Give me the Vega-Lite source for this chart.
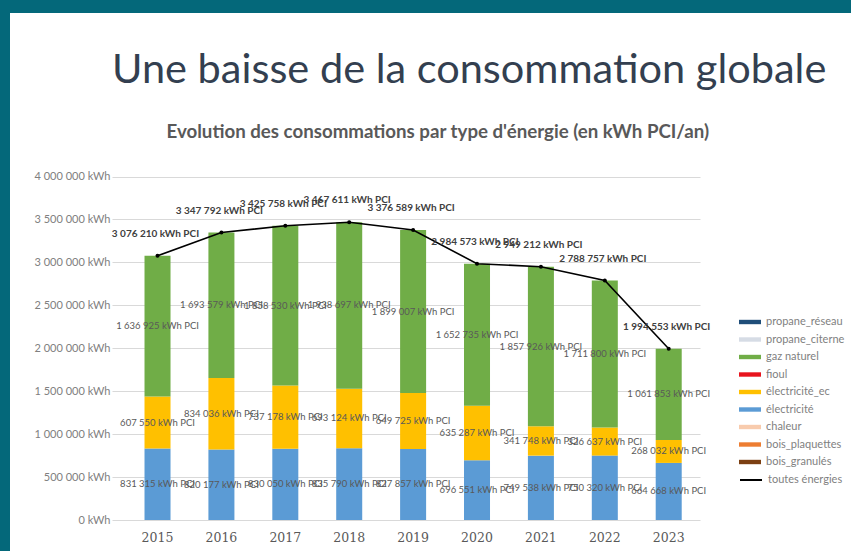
{
  "$schema": "https://vega.github.io/schema/vega-lite/v6.json",
  "autosize": {"type": "fit", "contains": "padding"},
  "width": 851,
  "height": 551,
  "padding": {"left": 10, "top": 13, "right": 0, "bottom": 0},
  "background": "#04687A",
  "config": {
    "view": {"fill": "#FFFFFF", "stroke": null},
    "locale": {"number": {"decimal": ",", "thousands": " ", "grouping": [3], "currency": ["", " €"]}},
    "axisY": {
      "orient": "left",
      "offset": 0,
      "domain": false,
      "ticks": false,
      "tickSize": 0,
      "labelPadding": -100,
      "labelFont": "Lato",
      "labelFontSize": 11,
      "labelColor": "#808080",
      "grid": true,
      "gridColor": "#D9D9D9",
      "gridWidth": 1
    }
  },
  "title": {
    "text": "Une baisse de la consommation globale",
    "subtitle": "\u200b\u00a0\u00a0\u00a0\u00a0\u00a0\u00a0\u00a0\u00a0\u00a0\u00a0\u00a0\u00a0Evolution des consommations par type d'énergie (en kWh PCI/an)",
    "anchor": "start",
    "frame": "group",
    "offset": -129,
    "dx": 102,
    "font": "Lato",
    "fontSize": 41.5,
    "fontWeight": 400,
    "color": "#333F50",
    "subtitleFont": "Lato",
    "subtitleFontSize": 18.7,
    "subtitleFontWeight": "bold",
    "subtitleColor": "#595959",
    "subtitlePadding": 32
  },
  "datasets": {
    "segments": [
      {"annee": "2015", "energie": "électricité", "valeur": 831315},
      {"annee": "2015", "energie": "électricité_ec", "valeur": 607550},
      {"annee": "2015", "energie": "gaz naturel", "valeur": 1636925},
      {"annee": "2016", "energie": "électricité", "valeur": 820177},
      {"annee": "2016", "energie": "électricité_ec", "valeur": 834036},
      {"annee": "2016", "energie": "gaz naturel", "valeur": 1693579},
      {"annee": "2017", "energie": "électricité", "valeur": 830050},
      {"annee": "2017", "energie": "électricité_ec", "valeur": 737178},
      {"annee": "2017", "energie": "gaz naturel", "valeur": 1858530},
      {"annee": "2018", "energie": "électricité", "valeur": 835790},
      {"annee": "2018", "energie": "électricité_ec", "valeur": 693124},
      {"annee": "2018", "energie": "gaz naturel", "valeur": 1938697},
      {"annee": "2019", "energie": "électricité", "valeur": 827857},
      {"annee": "2019", "energie": "électricité_ec", "valeur": 649725},
      {"annee": "2019", "energie": "gaz naturel", "valeur": 1899007},
      {"annee": "2020", "energie": "électricité", "valeur": 696551},
      {"annee": "2020", "energie": "électricité_ec", "valeur": 635287},
      {"annee": "2020", "energie": "gaz naturel", "valeur": 1652735},
      {"annee": "2021", "energie": "électricité", "valeur": 749538},
      {"annee": "2021", "energie": "électricité_ec", "valeur": 341748},
      {"annee": "2021", "energie": "gaz naturel", "valeur": 1857926},
      {"annee": "2022", "energie": "électricité", "valeur": 750320},
      {"annee": "2022", "energie": "électricité_ec", "valeur": 326637},
      {"annee": "2022", "energie": "gaz naturel", "valeur": 1711800},
      {"annee": "2023", "energie": "électricité", "valeur": 664668},
      {"annee": "2023", "energie": "électricité_ec", "valeur": 268032},
      {"annee": "2023", "energie": "gaz naturel", "valeur": 1061853}
    ],
    "totaux": [
      {"annee": "2015", "serie": "toutes énergies", "valeur": 3076210},
      {"annee": "2016", "serie": "toutes énergies", "valeur": 3347792},
      {"annee": "2017", "serie": "toutes énergies", "valeur": 3425758},
      {"annee": "2018", "serie": "toutes énergies", "valeur": 3467611},
      {"annee": "2019", "serie": "toutes énergies", "valeur": 3376589},
      {"annee": "2020", "serie": "toutes énergies", "valeur": 2984573},
      {"annee": "2021", "serie": "toutes énergies", "valeur": 2949212},
      {"annee": "2022", "serie": "toutes énergies", "valeur": 2788757},
      {"annee": "2023", "serie": "toutes énergies", "valeur": 1994553}
    ]
  },
  "encoding": {
    "x": {
      "field": "annee",
      "type": "ordinal",
      "scale": {"range": [102, 690], "paddingInner": 0.593, "paddingOuter": 0.3975, "align": 0.64},
      "axis": {
        "title": null,
        "orient": "bottom",
        "offset": -23,
        "domain": false,
        "ticks": false,
        "grid": false,
        "labelPadding": 3,
        "labelAngle": 0,
        "labelFont": "DejaVu Serif",
        "labelFontSize": 12.5,
        "labelColor": "#595959"
      }
    }
  },
  "layer": [
    {
      "data": {"name": "segments"},
      "transform": [
        {"calculate": "indexof(['électricité', 'électricité_ec', 'gaz naturel'], datum.energie)", "as": "ordre"},
        {"stack": "valeur", "groupby": ["annee"], "sort": [{"field": "ordre", "order": "ascending"}], "as": ["v0", "v1"]},
        {"calculate": "(datum.v0 + datum.v1) / 2", "as": "milieu"},
        {"calculate": "format(datum.valeur, ',.0f') + ' kWh PCI'", "as": "etiquette"}
      ],
      "layer": [
        {
          "mark": {"type": "bar"},
          "encoding": {
            "y": {
              "field": "v1",
              "type": "quantitative",
              "title": null,
              "scale": {"domain": [0, 4000000], "range": [507, 163.5], "nice": false, "zero": true},
              "axis": {
                "title": null,
                "values": [0, 500000, 1000000, 1500000, 2000000, 2500000, 3000000, 3500000, 4000000],
                "format": ",.0f",
                "labelExpr": "datum.label + ' kWh'"
              }
            },
            "y2": {"field": "v0"},
            "color": {
              "field": "energie",
              "type": "nominal",
              "scale": {
                "domain": ["propane_réseau", "propane_citerne", "gaz naturel", "fioul", "électricité_ec", "électricité", "chaleur", "bois_plaquettes", "bois_granulés"],
                "range": ["#1F4E79", "#D6DCE5", "#70AD47", "#E8141E", "#FFC000", "#5B9BD5", "#F8CBAD", "#ED7D31", "#7B3F12"]
              },
              "legend": {
                "title": null,
                "orient": "none",
                "legendX": 729,
                "legendY": 298,
                "padding": 0,
                "symbolType": "M-1,-0.2H1V0.2H-1Z",
                "symbolSize": 484,
                "symbolStrokeWidth": 0,
                "rowPadding": 1.5,
                "labelOffset": 5,
                "labelFont": "Lato",
                "labelFontSize": 11,
                "labelColor": "#7F7F7F"
              }
            }
          }
        },
        {
          "mark": {"type": "text", "font": "Lato", "fontSize": 9.5, "color": "#595959"},
          "encoding": {
            "y": {"field": "milieu", "type": "quantitative", "title": null, "scale": {"domain": [0, 4000000], "range": [507, 163.5], "nice": false, "zero": true}},
            "text": {"field": "etiquette", "type": "nominal"}
          }
        }
      ]
    },
    {
      "data": {"name": "totaux"},
      "mark": {"type": "line", "strokeWidth": 1.6, "point": {"filled": true, "size": 16}},
      "encoding": {
        "y": {"field": "valeur", "type": "quantitative", "title": null, "scale": {"domain": [0, 4000000], "range": [507, 163.5], "nice": false, "zero": true}},
        "color": {
          "field": "serie",
          "type": "nominal",
          "scale": {"domain": ["toutes énergies"], "range": ["#000000"]},
          "legend": {
            "title": null,
            "orient": "none",
            "legendX": 729,
            "legendY": 455,
            "padding": 0,
            "symbolType": "stroke",
            "symbolSize": 484,
            "symbolStrokeWidth": 2,
            "labelOffset": 5,
            "labelFont": "Lato",
            "labelFontSize": 11,
            "labelColor": "#7F7F7F"
          }
        }
      }
    },
    {
      "data": {"name": "totaux"},
      "transform": [
        {"calculate": "format(datum.valeur, ',.0f') + ' kWh PCI'", "as": "etiquette"}
      ],
      "mark": {"type": "text", "font": "Lato", "fontSize": 10, "fontWeight": "bold", "color": "#404040", "dy": -22, "dx": -2},
      "encoding": {
        "y": {"field": "valeur", "type": "quantitative", "title": null, "scale": {"domain": [0, 4000000], "range": [507, 163.5], "nice": false, "zero": true}},
        "text": {"field": "etiquette", "type": "nominal"}
      }
    }
  ],
  "resolve": {"scale": {"color": "independent"}}
}
